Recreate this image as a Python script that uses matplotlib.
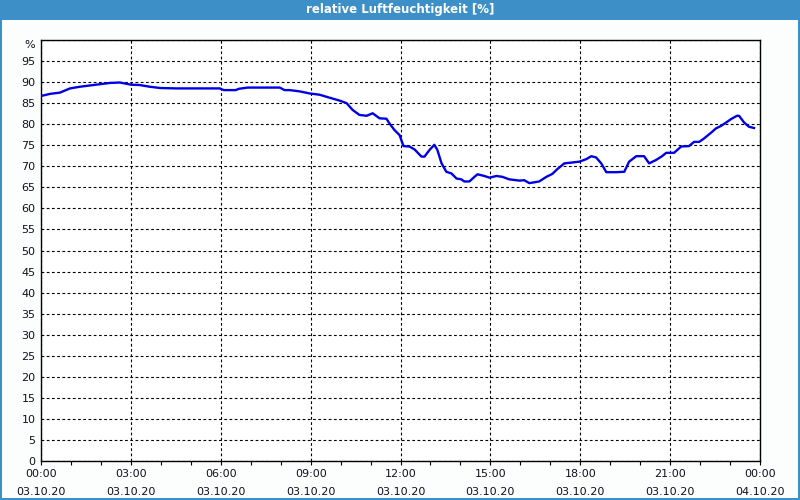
#!/usr/bin/python

from matplotlib import pyplot as plt
from matplotlib.patches import Rectangle
import matplotlib.ticker as ticker
import matplotlib

# Zeit in Stunden ab 03.10.20 00:00, relative Luftfeuchte in %
hours = [0.0, 0.3, 0.63, 0.97, 1.3, 1.63, 1.97, 2.3, 2.63, 3.0, 3.3, 3.63, 3.97,
         4.5, 5.0, 5.5, 5.97, 6.1, 6.5, 6.6, 6.9, 7.5, 7.97, 8.13, 8.3, 8.63,
         8.97, 9.3, 9.63, 9.97, 10.2, 10.4, 10.63, 10.87, 11.07, 11.3, 11.53,
         11.63, 11.8, 11.97, 12.1, 12.3, 12.47, 12.7, 12.8, 12.97, 13.13, 13.23,
         13.37, 13.53, 13.7, 13.87, 14.03, 14.13, 14.3, 14.47, 14.57, 14.8,
         14.97, 15.2, 15.4, 15.63, 15.97, 16.13, 16.3, 16.47, 16.63, 16.87,
         17.07, 17.23, 17.47, 17.73, 17.97, 18.2, 18.37, 18.53, 18.7, 18.87,
         19.2, 19.47, 19.63, 19.87, 20.13, 20.3, 20.53, 20.73, 20.87, 21.13,
         21.37, 21.63, 21.8, 21.97, 22.13, 22.37, 22.53, 22.7, 22.87, 23.03,
         23.23, 23.3, 23.47, 23.63, 23.8]
humidity = [86.7, 87.2, 87.5, 88.5, 88.9, 89.2, 89.5, 89.8, 89.9, 89.4, 89.3, 88.9, 88.6,
            88.5, 88.5, 88.5, 88.5, 88.1, 88.1, 88.4, 88.7, 88.7, 88.7, 88.1, 88.1, 87.8,
            87.3, 87.0, 86.3, 85.6, 85.0, 83.4, 82.2, 82.0, 82.6, 81.4, 81.3,
            80.2, 78.6, 77.4, 74.8, 74.7, 74.0, 72.3, 72.3, 73.9, 75.1, 73.9,
            70.7, 68.7, 68.3, 67.1, 66.9, 66.4, 66.4, 67.5, 68.1, 67.7,
            67.3, 67.7, 67.5, 66.9, 66.6, 66.7, 66.0, 66.2, 66.4, 67.5,
            68.2, 69.3, 70.7, 70.9, 71.1, 71.7, 72.4, 72.1, 70.7, 68.6,
            68.6, 68.7, 71.1, 72.4, 72.4, 70.7, 71.5, 72.4, 73.2, 73.2,
            74.7, 74.8, 75.8, 75.8, 76.6, 78.0, 79.0, 79.6, 80.4, 81.2,
            82.0, 82.0, 80.4, 79.4, 79.1]

x_labels = ["00:00\n03.10.20", "03:00\n03.10.20", "06:00\n03.10.20", "09:00\n03.10.20",
            "12:00\n03.10.20", "15:00\n03.10.20", "18:00\n03.10.20", "21:00\n03.10.20",
            "00:00\n04.10.20"]
y_labels = [str(v) for v in range(0, 100, 5)] + ["%"]

TITLE = "relative Luftfeuchtigkeit [%]"
BLUE = "#3d8fc7"

matplotlib.rc('font', size=8)

fig = plt.figure(figsize=(8, 5), dpi=100, facecolor="#fcfdfd")
W, H = 800.0, 500.0

# Fensterrahmen und Titelleiste
fig.patches.append(Rectangle((0, 1 - 20 / H), 1, 20 / H, transform=fig.transFigure,
                             facecolor=BLUE, edgecolor="none", zorder=0))
for r in [(0, 0, 2 / W, 1), (1 - 2 / W, 0, 2 / W, 1), (0, 0, 1, 2 / H)]:
    fig.patches.append(Rectangle(r[:2], r[2], r[3], transform=fig.transFigure,
                                 facecolor=BLUE, edgecolor="none", zorder=0))
fig.text(0.5, 1 - 10 / H, TITLE, color="white", fontweight="bold", fontsize=8.5,
         ha="center", va="center")

ax = fig.add_axes([41 / W, 1 - 461 / H, 719 / W, 421 / H])
ax.set_facecolor("white")

ax.plot(hours, humidity, color="#0000e6", linewidth=1.7, zorder=3)

ax.set_xlim(0, 24)
ax.set_ylim(0, 100)

ax.set_xticks(range(0, 25, 3))
ax.set_xticklabels(x_labels, linespacing=1.9)
ax.xaxis.set_minor_locator(ticker.MultipleLocator(1))
ax.set_yticks(range(0, 101, 5))
ax.set_yticklabels(y_labels)
# "%" sitzt knapp unter der Oberkante
ax.get_yticklabels()[-1].set_verticalalignment("top")

ax.tick_params(axis="x", which="both", direction="out", length=3, width=0.8, pad=3,
               colors="black", labelcolor="#101020")
ax.tick_params(axis="y", length=0, pad=4, labelcolor="#101020")

ax.grid(True, which="major", color="black", linestyle=(0, (2.5, 2.2)), linewidth=0.8)

for s in ax.spines.values():
    s.set_linewidth(1.0)
    s.set_color("black")

plt.savefig("out.png", dpi=100, facecolor=fig.get_facecolor())
